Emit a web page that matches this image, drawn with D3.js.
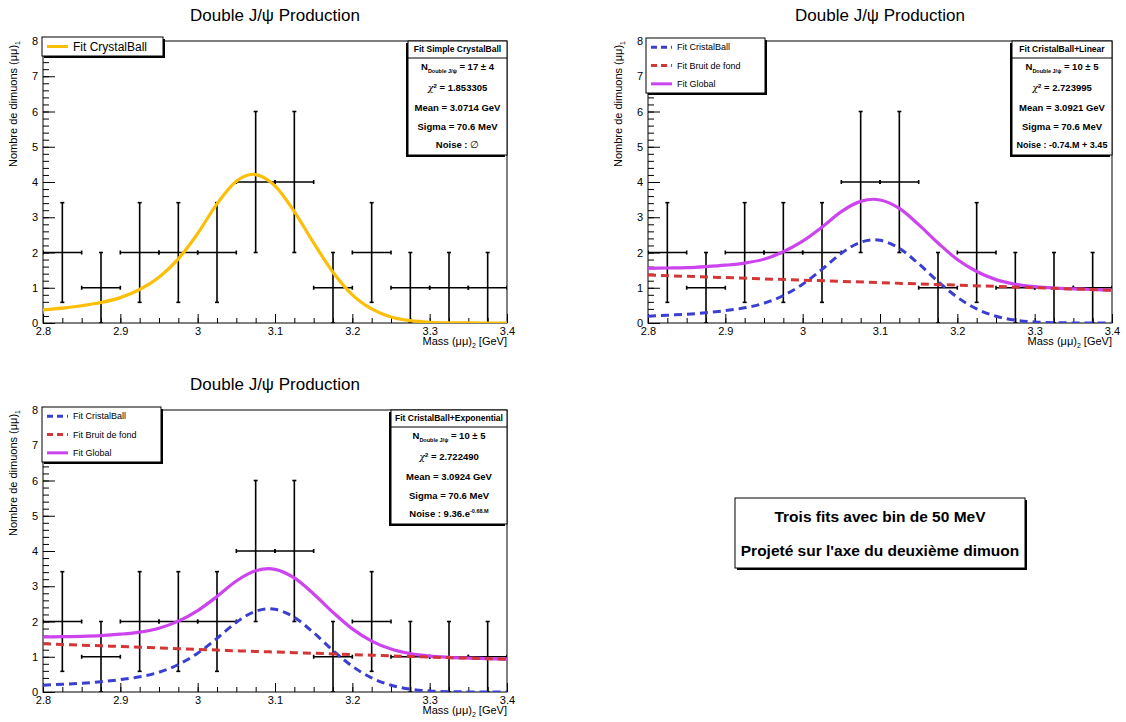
<!DOCTYPE html>
<html>
<head>
<meta charset="utf-8">
<script src="https://cdn.jsdelivr.net/npm/d3@7"></script>
<style>
  body { margin: 0; background: #fff; }
  text { font-family: "Liberation Sans", Arial, sans-serif; fill: #000; }
</style>
</head>
<body>
<script>
// histogram (50 MeV bins), same in the three pads
const binCenters = [2.825, 2.875, 2.925, 2.975, 3.025, 3.075, 3.125, 3.175, 3.225, 3.275, 3.325, 3.375]
const binCounts = [2, 1, 2, 2, 2, 4, 4, 1, 2, 1, 1, 1]
const binErrors = [1.414, 1, 1.414, 1.414, 1.414, 2, 2, 1, 1.414, 1, 1, 1]

const xTicks = [2.8, 2.9, 3, 3.1, 3.2, 3.3, 3.4]
const yTicks = [0, 1, 2, 3, 4, 5, 6, 7, 8]

// fit curves
const fitX1 = [2.8, 2.825, 2.85, 2.875, 2.9, 2.925, 2.95, 2.975, 3.0, 3.025, 3.05, 3.0714,
  3.1, 3.125, 3.15, 3.175, 3.2, 3.225, 3.25, 3.275, 3.3, 3.325, 3.35, 3.375, 3.4]
const cbSimple = [0.37, 0.42, 0.49, 0.58, 0.72, 0.95, 1.30, 1.82, 2.54, 3.38, 4.02, 4.22,
  3.89, 3.16, 2.27, 1.44, 0.80, 0.40, 0.17, 0.065, 0.02, 0.006, 0.002, 0, 0]

const fitX2 = [2.8, 2.825, 2.85, 2.875, 2.9, 2.925, 2.95, 2.975, 3.0, 3.025, 3.05, 3.075, 3.092,
  3.1, 3.125, 3.15, 3.175, 3.2, 3.225, 3.25, 3.275, 3.3, 3.325, 3.35, 3.375, 3.4]
const cbLin = [0.19, 0.22, 0.25, 0.29, 0.35, 0.43, 0.56, 0.78, 1.10, 1.52, 1.98, 2.29, 2.36,
  2.345, 2.12, 1.68, 1.18, 0.73, 0.40, 0.193, 0.082, 0.031, 0.010, 0.003, 0.001, 0]
const linX = [2.8, 3.4]
const bkgLin = [1.36, 0.93]
const globalLin = [1.55, 1.56, 1.57, 1.60, 1.64, 1.70, 1.81, 2.02, 2.32, 2.72, 3.16, 3.45, 3.51,
  3.49, 3.25, 2.79, 2.27, 1.80, 1.46, 1.23, 1.10, 1.03, 0.99, 0.97, 0.95, 0.93]

const cbExp = [0.19, 0.22, 0.25, 0.29, 0.35, 0.43, 0.56, 0.78, 1.10, 1.52, 1.98, 2.29, 2.36,
  2.345, 2.12, 1.68, 1.18, 0.73, 0.40, 0.193, 0.082, 0.031, 0.010, 0.003, 0.001, 0]
const bkgExp = [1.37, 1.35, 1.33, 1.31, 1.29, 1.27, 1.25, 1.23, 1.21, 1.19, 1.17, 1.15, 1.14,
  1.135, 1.115, 1.10, 1.08, 1.06, 1.045, 1.025, 1.01, 0.99, 0.975, 0.96, 0.945, 0.93]
const globalExp = [1.56, 1.57, 1.58, 1.60, 1.64, 1.70, 1.81, 2.01, 2.31, 2.71, 3.15, 3.44, 3.50,
  3.48, 3.235, 2.78, 2.26, 1.79, 1.445, 1.22, 1.09, 1.02, 0.985, 0.963, 0.946, 0.93]

// stats boxes
const statTitles = ['Fit Simple CrystalBall', 'Fit CristalBall+Linear', 'Fit CristalBall+Exponential']
const statN = ['17 \u00b1 4', '10 \u00b1 5', '10 \u00b1 5']
const statChi2 = ['1.853305', '2.723995', '2.722490']
const statMean = ['3.0714 GeV', '3.0921 GeV', '3.0924 GeV']
const statSigma = ['70.6 MeV', '70.6 MeV', '70.6 MeV']

const colors = {
  cb: '#fcbf08',
  blue: '#3a3fd0',
  red: '#d33636',
  magenta: '#cc44ee'
}

const W = 1126, H = 722

const svg = d3.select('body').append('svg')
    .attr('width', W)
    .attr('height', H)

const panels = [
  { left: 43, right: 507, top: 41, bottom: 323, stat: 0, statLeft: 408,
    curves: [{ xs: fitX1, ys: cbSimple, color: colors.cb, dash: null, w: 3.2 }],
    legend: { left: 42, top: 37, w: 121, h: 19, size: 12,
      items: [{ label: 'Fit CrystalBall', color: colors.cb, dash: null }] } },
  { left: 648, right: 1112, top: 41, bottom: 323, stat: 1, statLeft: 1012,
    curves: [
      { xs: fitX2, ys: globalLin, color: colors.magenta, dash: null, w: 3.2 },
      { xs: fitX2, ys: cbLin, color: colors.blue, dash: '8,5', w: 3 },
      { xs: linX, ys: bkgLin, color: colors.red, dash: '8,5', w: 3 }],
    legend: { left: 646, top: 38, w: 119, h: 55, size: 9, items: null } },
  { left: 43, right: 507, top: 410, bottom: 692, stat: 2, statLeft: 391,
    curves: [
      { xs: fitX2, ys: globalExp, color: colors.magenta, dash: null, w: 3.2 },
      { xs: fitX2, ys: cbExp, color: colors.blue, dash: '8,5', w: 3 },
      { xs: fitX2, ys: bkgExp, color: colors.red, dash: '8,5', w: 3 }],
    legend: { left: 42, top: 407, w: 119, h: 55, size: 9, items: null } }
]

const threeItems = [
  { label: 'Fit CristalBall', color: colors.blue, dash: '6,4' },
  { label: 'Fit Bruit de fond', color: colors.red, dash: '6,4' },
  { label: 'Fit Global', color: colors.magenta, dash: null }
]

panels.forEach((p, i) => drawPanel(p, i))

function drawPanel(p, idx) {
  const xScale = d3.scaleLinear().domain([2.8, 3.4]).range([p.left, p.right])
  const yScale = d3.scaleLinear().domain([0, 8]).range([p.bottom, p.top])

  const g = svg.append('g')

  g.append('clipPath').attr('id', 'clip' + idx)
    .append('rect')
    .attr('x', p.left).attr('y', p.top)
    .attr('width', p.right - p.left).attr('height', p.bottom - p.top)

  // title
  g.append('text')
      .attr('x', (p.left + p.right) / 2)
      .attr('y', p.top - 20)
      .attr('text-anchor', 'middle')
      .style('font-size', '17px')
      .text('Double J/\u03c8 Production')

  // axes, ROOT style ticks inside the frame
  const yMinor = d3.range(0, 8.001, 0.2)
  const xMinor = d3.range(2.8, 3.4001, 0.025)

  const yAxisMinor = g.append('g')
      .attr('transform', `translate(${p.left},0)`)
      .call(d3.axisLeft(yScale).tickValues(yMinor).tickSize(-6).tickFormat(''))
  const yAxis = g.append('g')
      .attr('transform', `translate(${p.left},0)`)
      .call(d3.axisLeft(yScale).tickValues(yTicks).tickSizeInner(-12).tickSizeOuter(0).tickPadding(5)
        .tickFormat(d3.format('d')))
  const xAxisMinor = g.append('g')
      .attr('transform', `translate(0,${p.bottom})`)
      .call(d3.axisBottom(xScale).tickValues(xMinor).tickSize(-5).tickFormat(''))
  const xAxis = g.append('g')
      .attr('transform', `translate(0,${p.bottom})`)
      .call(d3.axisBottom(xScale).tickValues(xTicks).tickSizeInner(-9).tickSizeOuter(0).tickPadding(4)
        .tickFormat(d => d3.format('~g')(d)))

  ;[yAxisMinor, yAxis, xAxisMinor, xAxis].forEach(a => {
    a.select('.domain').remove()
    a.selectAll('line').attr('stroke', '#000').attr('stroke-width', 1)
    a.selectAll('text').style('font-size', '11px').style('font-family', '"Liberation Sans", Arial, sans-serif')
  })

  // frame
  g.append('rect')
      .attr('x', p.left).attr('y', p.top)
      .attr('width', p.right - p.left).attr('height', p.bottom - p.top)
      .attr('fill', 'none').attr('stroke', '#000').attr('stroke-width', 1)

  // axis titles
  const yt = g.append('text')
      .attr('transform', `translate(${p.left - 26},${p.top}) rotate(-90)`)
      .attr('text-anchor', 'end')
      .style('font-size', '11px')
  yt.append('tspan').text('Nombre de dimuons (\u03bc\u03bc)')
  yt.append('tspan').attr('dy', 3).style('font-size', '7px').text('1')

  const xt = g.append('text')
      .attr('x', p.right)
      .attr('y', p.bottom + 22)
      .attr('text-anchor', 'end')
      .style('font-size', '11px')
  xt.append('tspan').text('Mass (\u03bc\u03bc)')
  xt.append('tspan').attr('dy', 3).style('font-size', '7px').text('2')
  xt.append('tspan').attr('dy', -3).text(' [GeV]')

  // data points with sqrt(N) errors
  const pts = binCenters.map((c, i) => ({ c, n: binCounts[i], e: binErrors[i] }))
  const bars = g.append('g')
      .attr('stroke', '#000')
      .attr('stroke-width', 1.6)
      .attr('clip-path', `url(#clip${idx})`)
  bars.selectAll('line.h')
    .data(pts)
    .join('line')
      .attr('class', 'h')
      .attr('x1', d => xScale(d.c - 0.025))
      .attr('x2', d => xScale(d.c + 0.025))
      .attr('y1', d => yScale(d.n))
      .attr('y2', d => yScale(d.n))
  bars.selectAll('line.v')
    .data(pts)
    .join('line')
      .attr('class', 'v')
      .attr('x1', d => xScale(d.c))
      .attr('x2', d => xScale(d.c))
      .attr('y1', d => yScale(d.n - d.e))
      .attr('y2', d => yScale(d.n + d.e))
  bars.selectAll('line.cap')
    .data(pts.flatMap(d => [d.n + d.e, d.n - d.e].map(v => ({ c: d.c, v }))))
    .join('line')
      .attr('class', 'cap')
      .attr('x1', d => xScale(d.c) - 2)
      .attr('x2', d => xScale(d.c) + 2)
      .attr('y1', d => yScale(d.v))
      .attr('y2', d => yScale(d.v))
  bars.selectAll('line.hcap')
    .data(pts.flatMap(d => [d.c - 0.025, d.c + 0.025].map(v => ({ v, n: d.n }))))
    .join('line')
      .attr('class', 'hcap')
      .attr('x1', d => xScale(d.v))
      .attr('x2', d => xScale(d.v))
      .attr('y1', d => yScale(d.n) - 2)
      .attr('y2', d => yScale(d.n) + 2)

  // fit curves
  const curveArea = g.append('g').attr('clip-path', `url(#clip${idx})`)
  p.curves.forEach(cv => {
    const line = d3.line()
        .x((d, i) => xScale(cv.xs[i]))
        .y(d => yScale(d))
        .curve(d3.curveMonotoneX)
    curveArea.append('path')
        .datum(cv.ys)
        .attr('d', line)
        .attr('fill', 'none')
        .attr('stroke', cv.color)
        .attr('stroke-width', cv.w)
        .attr('stroke-dasharray', cv.dash)
  })

  // legend
  const lg = p.legend
  const items = lg.items || threeItems
  const leg = g.append('g')
  leg.append('rect')
      .attr('x', lg.left + 2).attr('y', lg.top + 2)
      .attr('width', lg.w).attr('height', lg.h)
      .attr('fill', '#000')
  leg.append('rect')
      .attr('x', lg.left).attr('y', lg.top)
      .attr('width', lg.w).attr('height', lg.h)
      .attr('fill', '#fff').attr('stroke', '#000').attr('stroke-width', 1)
  const step = lg.h / items.length
  items.forEach((it, i) => {
    const cy = lg.top + step * (i + 0.5)
    leg.append('line')
        .attr('x1', lg.left + 5).attr('x2', lg.left + 26)
        .attr('y1', cy).attr('y2', cy)
        .attr('stroke', it.color).attr('stroke-width', 3)
        .attr('stroke-dasharray', it.dash)
    leg.append('text')
        .attr('x', lg.left + 31).attr('y', cy)
        .attr('dy', '0.36em')
        .style('font-size', lg.size + 'px')
        .text(it.label)
  })

  // stats box
  const s = p.stat
  const sl = p.statLeft, sr = p.right, st = p.top, sb = p.top + 114
  const sg = g.append('g').style('font-weight', 'bold').style('font-size', '9.5px')
  sg.append('rect')
      .attr('x', sl - 2).attr('y', st + 2)
      .attr('width', sr - sl).attr('height', sb - st)
      .attr('fill', '#000')
  sg.append('rect')
      .attr('x', sl).attr('y', st)
      .attr('width', sr - sl).attr('height', sb - st)
      .attr('fill', '#fff').attr('stroke', '#000').attr('stroke-width', 1)
  sg.append('line')
      .attr('x1', sl).attr('x2', sr)
      .attr('y1', st + 17).attr('y2', st + 17)
      .attr('stroke', '#000')
  const cx = (sl + sr) / 2
  const row = (yy) => sg.append('text').attr('x', cx).attr('y', yy).attr('dy', '0.35em').attr('text-anchor', 'middle')
  row(st + 8.5).style('font-size', '8.5px').text(statTitles[s])

  const rN = row(st + 26)
  rN.append('tspan').text('N')
  rN.append('tspan').attr('dy', 3).style('font-size', '5.5px').text('Double J/\u03c8')
  rN.append('tspan').attr('dy', -3).text(' = ' + statN[s])

  const rC = row(st + 47)
  rC.append('tspan').style('font-weight', 'normal').style('font-family', '"DejaVu Serif", serif').style('font-style', 'italic').text('\u03c7')
  rC.append('tspan').attr('dy', -3).style('font-size', '6px').text('2')
  rC.append('tspan').attr('dy', 3).text(' = ' + statChi2[s])

  row(st + 67).text('Mean = ' + statMean[s])
  row(st + 86).text('Sigma = ' + statSigma[s])

  const rNo = row(st + 104)
  if (s === 0) {
    rNo.append('tspan').text('Noise : ')
    rNo.append('tspan').style('font-weight', 'normal').text('\u2205')
  } else if (s === 1) {
    rNo.style('font-size', '9px').text('Noise : -0.74.M + 3.45')
  } else {
    rNo.append('tspan').text('Noise : 9.36.e')
    rNo.append('tspan').attr('dy', -4).style('font-size', '5.5px').text('-0.68.M')
  }
}

// note box, bottom right
const note = svg.append('g')
note.append('rect')
    .attr('x', 737).attr('y', 500)
    .attr('width', 290).attr('height', 70)
    .attr('fill', '#000')
note.append('rect')
    .attr('x', 735).attr('y', 498)
    .attr('width', 290).attr('height', 70)
    .attr('fill', '#fff').attr('stroke', '#000').attr('stroke-width', 1)
const noteLines = ['Trois fits avec bin de 50 MeV', "Projet\u00e9 sur l'axe du deuxi\u00e8me dimuon"]
note.selectAll('text')
  .data(noteLines)
  .join('text')
    .attr('x', 880)
    .attr('y', (d, i) => 517 + i * 34)
    .attr('dy', '0.35em')
    .attr('text-anchor', 'middle')
    .style('font-weight', 'bold')
    .style('font-size', '15.5px')
    .text(d => d)
</script>
</body>
</html>
